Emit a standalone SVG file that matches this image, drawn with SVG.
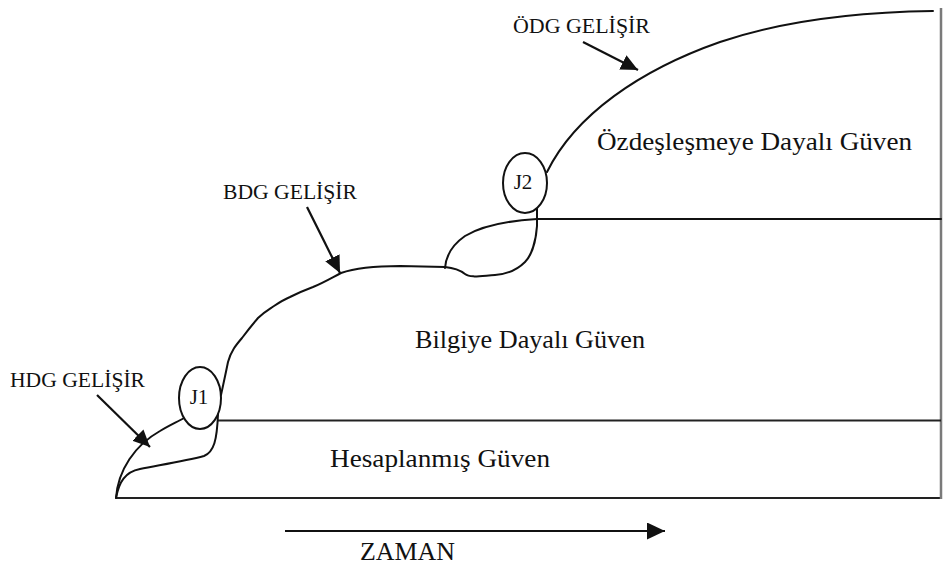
<svg xmlns="http://www.w3.org/2000/svg" width="943" height="567" viewBox="0 0 943 567">
  <style>
    .curve { fill: none; stroke: #111; stroke-width: 2; stroke-linecap: round; stroke-linejoin: round; }
    .frame { fill: none; stroke: #222; stroke-width: 2; }
    .edge { fill: none; stroke: #7a7a7a; stroke-width: 2.5; }
    .ptr { fill: none; stroke: #111; stroke-width: 2.2; }
    .node { fill: #fff; stroke: #111; stroke-width: 2; }
    text { font-family: "Liberation Serif", "Times New Roman", serif; fill: #111; }
    .big { font-size: 26px; }
    .small { font-size: 21px; }
    .tag { font-size: 21px; }
  </style>
  <defs>
    <marker id="head" markerUnits="userSpaceOnUse" markerWidth="18" markerHeight="16" refX="17" refY="8" orient="auto">
      <path d="M0,0 L17,8 L0,16 z" fill="#111"/>
    </marker>
    <marker id="timeHead" markerUnits="userSpaceOnUse" markerWidth="18" markerHeight="18" refX="18" refY="8.5" orient="auto">
      <path d="M0,0 L18,8.5 L0,17 z" fill="#111"/>
    </marker>
  </defs>

  <!-- frame: base line, right edge and the two level lines -->
  <g id="frame">
    <line class="frame" x1="116" y1="498" x2="941" y2="498"/>
    <line class="edge" x1="941" y1="8" x2="941" y2="499"/>
    <line class="frame" x1="218" y1="420.5" x2="941" y2="420.5"/>
  </g>

  <!-- growth curves and arrows -->
  <g id="connectors">
    <!-- calculated trust: outer and inner lobes -->
    <path class="curve" d="M116,498 C118,470 135,445 160,431 C170,425 177,422 184,418"/>
    <path class="curve" d="M116,498 C119,482 125,472 140,469 C160,465 185,461 204,456 C214,452 217,440 218,414"/>
    <!-- knowledge-based trust -->
    <path class="curve" d="M221,395 C224,381 226,372 228,362 C231,351 236,345 242,338 C248,330 252,325 258,318 C264,312 268,310 274,306 C280,302 283,300 290,297 C298,293 305,290 313,287 C325,282 333,277 341,273 C355,268 375,266 400,266 L445,267 C455,268 460,270 465,274 C470,278 480,276 495,275 C510,274 518,269 525,262 C532,255 536,240 537,226 L537,208"/>
    <path class="curve" d="M445,268 C446,255 452,245 465,236 C480,227 505,221 537,219 L941,219"/>
    <!-- identification-based trust -->
    <path class="curve" d="M547,172 C575,115 640,70 720,42 C785,20 860,12 933,11"/>

    <!-- pointer arrows -->
    <line class="ptr" x1="97" y1="395" x2="150" y2="447" marker-end="url(#head)"/>
    <line class="ptr" x1="307" y1="207" x2="340" y2="273" marker-end="url(#head)"/>
    <line class="ptr" x1="583" y1="42" x2="638" y2="70" marker-end="url(#head)"/>

    <!-- time axis -->
    <line class="ptr" x1="285" y1="531" x2="665" y2="531" marker-end="url(#timeHead)"/>
  </g>

  <!-- transition nodes -->
  <g id="J1">
    <ellipse class="node" cx="200" cy="398" rx="21" ry="31"/>
    <text class="tag" x="199" y="404" text-anchor="middle">J1</text>
  </g>
  <g id="J2">
    <ellipse class="node" cx="525" cy="183" rx="22" ry="30"/>
    <text class="tag" x="523" y="189" text-anchor="middle">J2</text>
  </g>

  <!-- labels -->
  <g id="labels">
    <text class="small" x="10" y="387" textLength="135" lengthAdjust="spacingAndGlyphs">HDG GELİŞİR</text>
    <text class="small" x="223" y="199" textLength="134" lengthAdjust="spacingAndGlyphs">BDG GELİŞİR</text>
    <text class="small" x="513" y="33" textLength="137" lengthAdjust="spacingAndGlyphs">ÖDG GELİŞİR</text>
    <text class="big" x="330" y="467" textLength="220" lengthAdjust="spacingAndGlyphs">Hesaplanmış Güven</text>
    <text class="big" x="415" y="348" textLength="230" lengthAdjust="spacingAndGlyphs">Bilgiye Dayalı Güven</text>
    <text class="big" x="597" y="150" textLength="315" lengthAdjust="spacingAndGlyphs">Özdeşleşmeye Dayalı Güven</text>
    <text class="big" x="360" y="560" textLength="95" lengthAdjust="spacingAndGlyphs">ZAMAN</text>
  </g>
</svg>
